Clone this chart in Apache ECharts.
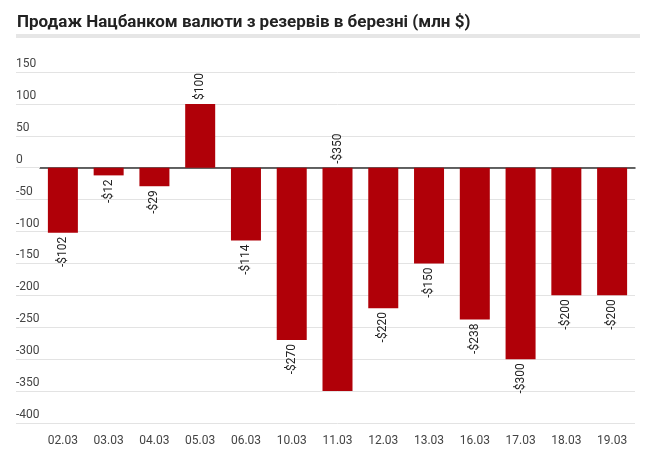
<!DOCTYPE html>
<html>
<head>
<meta charset="utf-8">
<script src="https://cdn.jsdelivr.net/npm/echarts@6/dist/echarts.min.js"></script>
<style>
    html, body { margin: 0; padding: 0; background: #fff; }
    #main { width: 650px; height: 455px; }
</style>
</head>
<body>
<div id="main"></div>
<script>
'use strict';

var titleText = 'Продаж Нацбанком валюти з резервів в березні (млн $)';
var categories = ['02.03', '03.03', '04.03', '05.03', '06.03', '10.03', '11.03', '12.03', '13.03', '16.03', '17.03', '18.03', '19.03'];
var values = [-102, -12, -29, 100, -114, -270, -350, -220, -150, -238, -300, -200, -200];

// підписи стовпчиків
function makeData() {
    return values.map(function(v, i) {
        var up = v > 0 || v <= -350;
        return {
            value: v,
            label: {
                position: up ? 'top' : 'bottom',
                align: up ? 'left' : 'right',
                distance: 4
            }
        };
    });
}

var option = {
    animation: false,
    textStyle: { fontFamily: 'Roboto' },
    title: {
        text: titleText,
        left: 12,
        top: 9,
        textStyle: { fontSize: 17, fontWeight: 'bold', color: '#222', fontFamily: 'Roboto' }
    },
    graphic: [{
        type: 'rect',
        shape: { x: 16, y: 34, width: 624, height: 4 },
        style: { fill: '#e6e6e6' }
    }],
    grid: { left: 40, right: 15, top: 72, bottom: 32 },
    xAxis: {
        type: 'category',
        data: categories,
        offset: 4,
        axisLine: { lineStyle: { color: '#333', width: 1.5 } },
        axisTick: { show: false },
        axisLabel: { color: '#444', fontSize: 12, margin: 8 }
    },
    yAxis: {
        type: 'value',
        min: -400,
        max: 150,
        interval: 50,
        axisLine: { show: false },
        axisTick: { show: true, length: 24, lineStyle: { color: '#e3e3e3' } },
        axisLabel: { color: '#444', fontSize: 12, align: 'left', verticalAlign: 'bottom', margin: 24, padding: [0, 0, 2, 0] },
        splitLine: { lineStyle: { color: '#e3e3e3' } }
    },
    series: [{
        type: 'bar',
        data: makeData(),
        barWidth: 30,
        itemStyle: { color: '#b00008' },
        label: {
            show: true,
            rotate: 90,
            verticalAlign: 'middle',
            color: '#222',
            fontSize: 12,
            formatter: function(p) {
                return p.value < 0 ? '-$' + (-p.value) : '$' + p.value;
            }
        }
    }]
};

var myChart = echarts.init(document.getElementById('main'));
myChart.setOption(option);
</script>
</body>
</html>
